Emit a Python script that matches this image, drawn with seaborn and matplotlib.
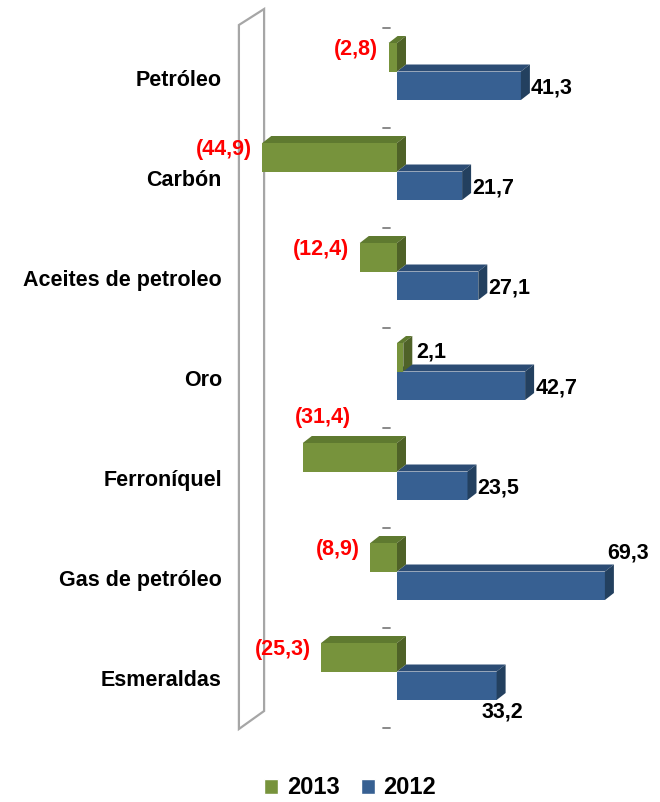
import numpy as np
import pandas as pd
import matplotlib
matplotlib.use("Agg")
import matplotlib.pyplot as plt
from matplotlib.patches import Polygon, Patch
import seaborn as sns

# Datos (variación %, 2013 vs 2012)
categorias = ["Petróleo", "Carbón", "Aceites de petroleo", "Oro",
              "Ferroníquel", "Gas de petróleo", "Esmeraldas"]
valores_2013 = [-2.8, -44.9, -12.4, 2.1, -31.4, -8.9, -25.3]
valores_2012 = [41.3, 21.7, 27.1, 42.7, 23.5, 69.3, 33.2]
anios = ["2013", "2012"]

# ubicación de las etiquetas (estilo, no datos)
pos_2013 = ["left", "left", "left", "right", "above", "left", "left"]
pos_2012 = ["right", "right", "right", "right", "right", "above", "below"]

df = pd.DataFrame({
    "categoria": categorias * 2,
    "anio": ["2013"] * len(categorias) + ["2012"] * len(categorias),
    "valor": valores_2013 + valores_2012,
})

colores = {"2013": "#77933C", "2012": "#376092"}
tapa = {"2013": "#5F7A30", "2012": "#2C4C74"}
lado = {"2013": "#4F6228", "2012": "#23405F"}

sns.set_style("white")
plt.rcParams["font.family"] = ["Liberation Sans", "DejaVu Sans"]
plt.rcParams["text.color"] = "black"
plt.rcParams["ytick.color"] = "black"

W, H = 660, 802
fig = plt.figure(figsize=(W / 100, H / 100), dpi=100)
ax = fig.add_axes([230 / W, (H - 750) / H, 420 / W, 750 / H])

sns.barplot(data=df, y="categoria", x="valor", hue="anio", hue_order=anios,
            palette=colores, orient="h", width=0.57, dodge=True,
            saturation=1, legend=False, linewidth=0, ax=ax)

n = len(categorias)
ax.set_xlim(-167 / 3, 253 / 3)
ax.set_ylim(n - 0.215, -0.715)

# caras 3D
dx, dy = 3.0, 0.07
bars = [p for p in ax.patches]
for k, rect in enumerate(bars):
    serie = anios[0] if k < n else anios[1]
    z = 3 if serie == "2013" else 2
    x0, w = rect.get_x(), rect.get_width()
    y0, h = rect.get_y(), rect.get_height()
    xl, xr = min(x0, x0 + w), max(x0, x0 + w)
    yt, yb = min(y0, y0 + h), max(y0, y0 + h)
    rect.set_zorder(z)
    ax.add_patch(Polygon([(xl, yt), (xl + dx, yt - dy), (xr + dx, yt - dy), (xr, yt)],
                         closed=True, facecolor=tapa[serie], lw=0, zorder=z))
    ax.add_patch(Polygon([(xr, yt), (xr + dx, yt - dy), (xr + dx, yb - dy), (xr, yb)],
                         closed=True, facecolor=lado[serie], lw=0, zorder=z))

# pared lateral
pared = Polygon([(-52.7, -0.465), (-44.3, -0.625), (-44.3, n - 0.605), (-52.7, n - 0.425)],
                closed=True, facecolor="white", edgecolor="#A6A6A6", lw=1.6, zorder=1)
ax.add_patch(pared)

# marcas del eje
for k in range(n + 1):
    ax.plot([-4.67, -2.33], [k - 0.435] * 2, color="#808080", lw=1.3, zorder=1)


def fmt(v):
    s = f"{abs(v):.1f}".replace(".", ",")
    return f"({s})" if v < 0 else s


bw = 0.285
fs = 15.5
for i in range(n):
    # 2013 (barra superior)
    v = valores_2013[i]
    col = "#FF0000" if v < 0 else "black"
    top = i - bw
    p = pos_2013[i]
    if p == "left":
        ax.text(min(v, 0) - 3.5, top + 0.06, fmt(v), ha="right", va="center",
                fontsize=fs, fontweight="bold", color=col, zorder=5)
    elif p == "above":
        ax.text(min(v, 0) - 2.5, top - dy - 0.19, fmt(v), ha="left", va="center",
                fontsize=fs, fontweight="bold", color=col, zorder=5)
    else:
        ax.text(max(v, 0) + dx + 1.2, top + 0.09, fmt(v), ha="left", va="center",
                fontsize=fs, fontweight="bold", color=col, zorder=5)
    # 2012 (barra inferior)
    v = valores_2012[i]
    col = "#FF0000" if v < 0 else "black"
    p = pos_2012[i]
    if p == "right":
        ax.text(max(v, 0) + dx + 0.4, i + 0.165, fmt(v), ha="left", va="center",
                fontsize=fs, fontweight="bold", color=col, zorder=5)
    elif p == "above":
        ax.text(max(v, 0) + 0.8, i - 0.185, fmt(v), ha="left", va="center",
                fontsize=fs, fontweight="bold", color=col, zorder=5)
    else:
        ax.text(max(v, 0) + 1.8, i + bw + 0.12, fmt(v), ha="center", va="center",
                fontsize=fs, fontweight="bold", color=col, zorder=5)

ax.set_yticks(np.arange(n) + 0.065)
ax.set_yticklabels(categorias, fontsize=fs, fontweight="bold", color="black")
ax.tick_params(axis="y", length=0, pad=5.8, labelcolor="black")
ax.set_xticks([])
ax.set_xlabel("")
ax.set_ylabel("")
for s in ax.spines.values():
    s.set_visible(False)

handles = [Patch(facecolor=colores[a], label=a) for a in anios]
leg = fig.legend(handles=handles, loc="center", bbox_to_anchor=(350 / W, 1 - 788 / H),
                 ncol=2, frameon=False, prop={"size": 17, "weight": "bold"},
                 handlelength=0.6, handleheight=0.6, handletextpad=0.35, columnspacing=0.9)
for t in leg.get_texts():
    t.set_color("black")

fig.savefig("out.png", dpi=100)
